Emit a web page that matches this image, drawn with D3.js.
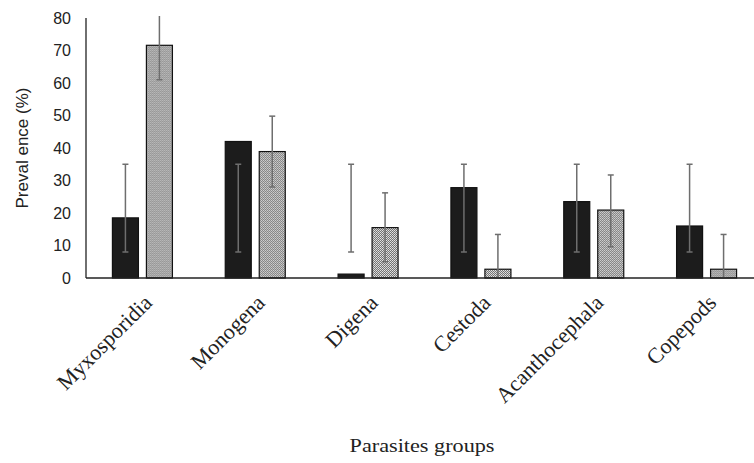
<!DOCTYPE html>
<html>
<head>
<meta charset="utf-8">
<script src="https://cdn.jsdelivr.net/npm/d3@7"></script>
<style>
  body { margin: 0; background: #fff; }
  .tick-label { font-family: "Liberation Sans", Arial, sans-serif; font-size: 16px; fill: #222; }
  .cat-label { font-family: "Liberation Serif", "Times New Roman", serif; font-size: 22px; fill: #222; }
</style>
</head>
<body>
<div id="chart"></div>
<script>
// data
var groups = ["Myxosporidia", "Monogena", "Digena", "Cestoda", "Acanthocephala", "Copepods"];
var seriesA = [18.5, 42, 1.2, 27.8, 23.5, 16];      // dark bars
var seriesB = [71.6, 38.9, 15.5, 2.7, 20.9, 2.7];   // dotted bars
var errLowA = [8, 8, 8, 8, 8, 8];
var errHighA = [35, 35, 35, 35, 35, 35];
var errLowB = [61, 28, 5, 0, 9.6, 0];
var errHighB = [88, 49.8, 26.2, 13.4, 31.7, 13.4];
var yTicks = [0, 10, 20, 30, 40, 50, 60, 70, 80];

var svgWidth = 754;
var svgHeight = 463;

var svg = d3.select("#chart")
  .append("svg")
  .attr("width", svgWidth)
  .attr("height", svgHeight);

// stipple fill for the second series
var defs = svg.append("defs");
var pat = defs.append("pattern")
  .attr("id", "dots")
  .attr("width", 2)
  .attr("height", 2)
  .attr("patternUnits", "userSpaceOnUse");
pat.append("rect").attr("width", 2).attr("height", 2).attr("fill", "#6a6a6a");
pat.append("rect").attr("width", 1).attr("height", 1).attr("fill", "#eee");
pat.append("rect").attr("x", 1).attr("y", 1).attr("width", 1).attr("height", 1).attr("fill", "#d8d8d8");

var x0 = d3.scaleBand()
  .domain(groups)
  .range([86, 763]);

var x1 = d3.scaleBand()
  .domain(["a", "b"])
  .range([-30, 30])
  .paddingInner(0.235);

var y = d3.scaleLinear()
  .domain([0, 80])
  .range([278, 18]);

defs.append("clipPath").attr("id", "plotClip")
  .append("rect")
  .attr("x", 86).attr("y", y(80.6))
  .attr("width", 700).attr("height", y(0) - y(80.6) + 10);

// y tick labels (no tick marks)
svg.append("g").selectAll("text")
  .data(yTicks)
  .enter()
  .append("text")
  .attr("class", "tick-label")
  .attr("x", 71)
  .attr("y", d => y(d))
  .attr("dy", "0.35em")
  .attr("text-anchor", "end")
  .text(d => d);

// build rows
var rows = groups.map(function(g, i) {
  return [
    { group: g, key: "a", value: seriesA[i], lo: errLowA[i], hi: errHighA[i] },
    { group: g, key: "b", value: seriesB[i], lo: errLowB[i], hi: errHighB[i] }
  ];
});

var groupSel = svg.append("g")
  .attr("clip-path", "url(#plotClip)")
  .selectAll("g")
  .data(rows)
  .enter()
  .append("g")
  .attr("transform", (d, i) => `translate(${x0(groups[i]) + x0.bandwidth() / 2}, 0)`);

groupSel.selectAll("rect")
  .data(d => d)
  .enter()
  .append("rect")
  .attr("x", d => x1(d.key))
  .attr("y", d => y(d.value))
  .attr("width", x1.bandwidth())
  .attr("height", d => y(0) - y(d.value))
  .attr("fill", d => d.key == "a" ? "#1c1c1c" : "url(#dots)")
  .attr("stroke", "#111")
  .attr("stroke-width", 1.2);

// error bars
var err = groupSel.selectAll("g.err")
  .data(d => d)
  .enter()
  .append("g")
  .attr("class", "err")
  .attr("transform", d => `translate(${x1(d.key) + x1.bandwidth() / 2}, 0)`);

err.append("line")
  .attr("x1", 0).attr("x2", 0)
  .attr("y1", d => y(d.lo))
  .attr("y2", d => y(d.hi))
  .attr("stroke", "#6e6e6e")
  .attr("stroke-width", 1.5);

err.selectAll("line.cap")
  .data(d => [d.lo, d.hi])
  .enter()
  .append("line")
  .attr("class", "cap")
  .attr("x1", -3).attr("x2", 3)
  .attr("y1", d => y(d))
  .attr("y2", d => y(d))
  .attr("stroke", "#6e6e6e")
  .attr("stroke-width", 1.5);

// axes lines
svg.append("line")
  .attr("x1", 86).attr("x2", 86)
  .attr("y1", y(80)).attr("y2", y(0))
  .attr("stroke", "#222").attr("stroke-width", 1.3);

svg.append("line")
  .attr("x1", 86).attr("x2", 763)
  .attr("y1", y(0)).attr("y2", y(0))
  .attr("stroke", "#222").attr("stroke-width", 1.3);

// category labels, rotated 45 degrees
svg.append("g").selectAll("text")
  .data(groups)
  .enter()
  .append("text")
  .attr("class", "cat-label")
  .attr("text-anchor", "end")
  .attr("transform", d => `translate(${x0(d) + x0.bandwidth() / 2 + 11}, 304) rotate(-45)`)
  .text(d => d);

// axis titles
svg.append("text")
  .attr("transform", `translate(28, ${y(40)}) rotate(-90)`)
  .attr("text-anchor", "middle")
  .style("font-family", "Liberation Sans, Arial, sans-serif")
  .style("font-size", "17px")
  .attr("fill", "#222")
  .text("Preval ence (%)");

svg.append("text")
  .attr("transform", "translate(422, 452) scale(1.17, 1)")
  .attr("text-anchor", "middle")
  .style("font-family", "Liberation Serif, Times New Roman, serif")
  .style("font-size", "19px")
  .attr("fill", "#222")
  .text("Parasites groups");
</script>
</body>
</html>
